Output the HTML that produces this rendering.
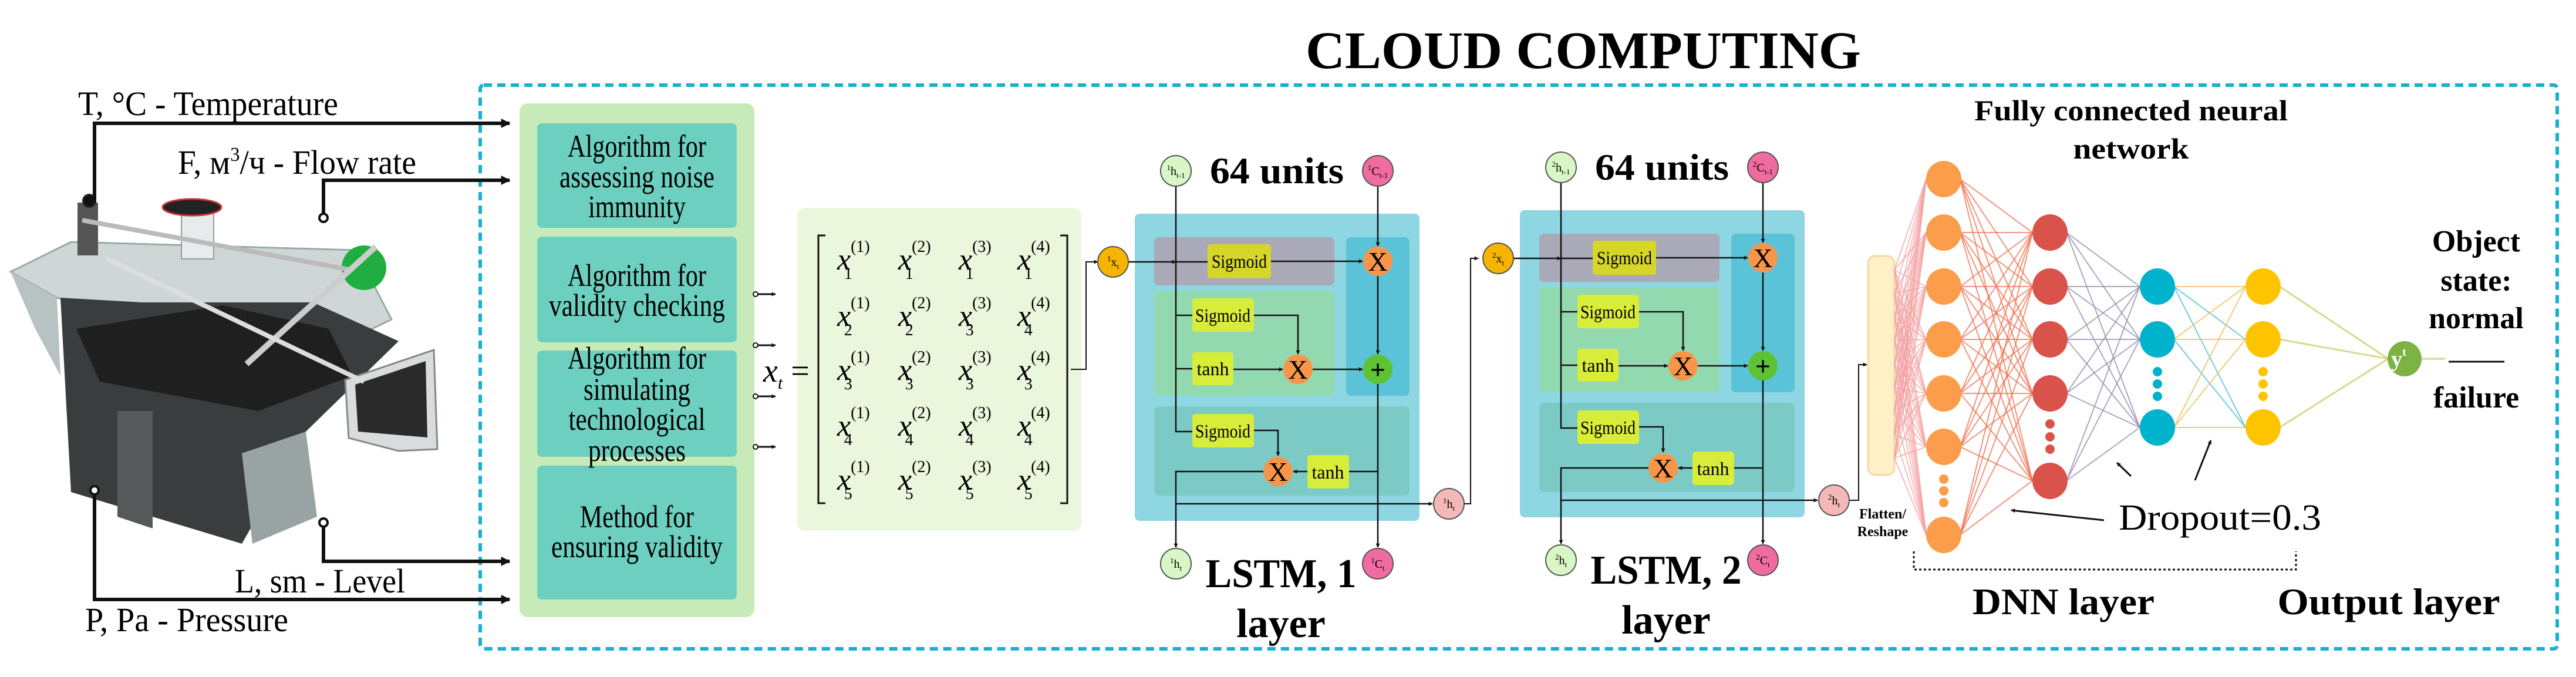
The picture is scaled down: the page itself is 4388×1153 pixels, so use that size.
<!DOCTYPE html>
<html><head><meta charset="utf-8"><style>
html,body{margin:0;padding:0;background:#fff;}
svg{display:block;}
text{font-family:"Liberation Serif",serif;}
</style></head><body>
<svg id="s" width="4388" height="1153" viewBox="0 0 4388 1153" xmlns="http://www.w3.org/2000/svg" font-family="Liberation Serif, serif">
<defs>
<marker id="ar" viewBox="0 0 10 10" refX="9" refY="5" markerWidth="7" markerHeight="7" orient="auto" markerUnits="userSpaceOnUse"><path d="M0,0L10,5L0,10z" fill="#111"/></marker>
<marker id="ab" viewBox="0 0 10 10" refX="9" refY="5" markerWidth="16" markerHeight="16" orient="auto" markerUnits="userSpaceOnUse"><path d="M0,0L10,5L0,10z" fill="#111"/></marker>
</defs>
<rect width="4388" height="1153" fill="#fff"/>

<text x="2697" y="116" font-size="90" font-weight="bold" text-anchor="middle" textLength="946" lengthAdjust="spacingAndGlyphs">CLOUD COMPUTING</text>

<rect x="818" y="145" width="3538" height="960" rx="6" fill="none" stroke="#16b0d0" stroke-width="6" stroke-dasharray="14 9"/>

<!-- machine photo approximation -->
<g>
<polygon points="18,463 121,412 606,426 667,544 485,632 97,507" fill="#cfd6d6" stroke="#9aa" stroke-width="3"/>
<polygon points="18,463 97,507 103,640 60,560" fill="#b9c2c2"/>
<polygon points="103,507 242,515 533,515 679,581 521,735 412,926 121,838" fill="#3a3d3e"/>
<polygon points="130,560 380,520 560,560 600,640 440,700 170,650" fill="#1f1f1f"/>
<polygon points="412,772 521,735 540,880 430,926" fill="#9aa3a3"/>
<polygon points="200,700 260,700 260,900 200,880" fill="#55595a"/>
<polygon points="588,647 739,596 745,765 679,768 594,746" fill="#d8dcdc" stroke="#888" stroke-width="3"/>
<polygon points="605,655 725,615 728,745 610,735" fill="#2a2a2a"/>
<rect x="309" y="346" width="55" height="95" fill="#e6ebeb" stroke="#999" stroke-width="2"/>
<ellipse cx="327" cy="353" rx="50" ry="14" fill="#222" stroke="#c33" stroke-width="3"/>
<rect x="132" y="345" width="35" height="90" fill="#555"/>
<circle cx="152" cy="342" r="12" fill="#222"/>
<circle cx="620" cy="456" r="38" fill="#1fae3f"/>
<line x1="140" y1="375" x2="600" y2="460" stroke="#bbb" stroke-width="8"/>
<line x1="420" y1="620" x2="640" y2="420" stroke="#ccc" stroke-width="10"/>
<line x1="180" y1="440" x2="620" y2="650" stroke="#ddd" stroke-width="8"/>
</g>

<g stroke="#111" stroke-width="6" fill="none">
<polyline points="161,345 161,210 868,210" marker-end="url(#ab)"/>
<polyline points="551,371 551,307 868,307" marker-end="url(#ab)"/>
<polyline points="551,890 551,956 868,956" marker-end="url(#ab)"/>
<polyline points="161,835 161,1021 868,1021" marker-end="url(#ab)"/>
</g>
<g fill="#fff" stroke="#111" stroke-width="4">
<circle cx="551" cy="371" r="7"/><circle cx="551" cy="890" r="7"/><circle cx="161" cy="835" r="7"/><circle cx="152" cy="342" r="7" fill="#111"/>
</g>
<g font-size="58">
<text x="133" y="196" textLength="443" lengthAdjust="spacingAndGlyphs">T, °C - Temperature</text>
<text x="303" y="296" textLength="406" lengthAdjust="spacingAndGlyphs">F, м<tspan font-size="34" dy="-22">3</tspan><tspan dy="22">/ч - Flow rate</tspan></text>
<text x="400" y="1009" textLength="290" lengthAdjust="spacingAndGlyphs">L, sm - Level</text>
<text x="145" y="1075" textLength="346" lengthAdjust="spacingAndGlyphs">P, Pa - Pressure</text>
</g>

<rect x="885" y="176" width="400" height="875" rx="14" fill="#c6ebb8"/>
<g fill="#6dcfbf">
<rect x="915" y="210" width="340" height="178" rx="8"/>
<rect x="915" y="403" width="340" height="180" rx="8"/>
<rect x="915" y="597" width="340" height="181" rx="8"/>
<rect x="915" y="793" width="340" height="228" rx="8"/>
</g>
<g font-size="54" text-anchor="middle" lengthAdjust="spacingAndGlyphs">
<text x="1085" y="267" textLength="236" lengthAdjust="spacingAndGlyphs">Algorithm for</text>
<text x="1085" y="319" textLength="264" lengthAdjust="spacingAndGlyphs">assessing noise</text>
<text x="1085" y="370" textLength="166" lengthAdjust="spacingAndGlyphs">immunity</text>
<text x="1085" y="487" textLength="236" lengthAdjust="spacingAndGlyphs">Algorithm for</text>
<text x="1085" y="538" textLength="300" lengthAdjust="spacingAndGlyphs">validity checking</text>
<text x="1085" y="628" textLength="236" lengthAdjust="spacingAndGlyphs">Algorithm for</text>
<text x="1085" y="681" textLength="182" lengthAdjust="spacingAndGlyphs">simulating</text>
<text x="1085" y="732" textLength="233" lengthAdjust="spacingAndGlyphs">technological</text>
<text x="1085" y="785" textLength="166" lengthAdjust="spacingAndGlyphs">processes</text>
<text x="1085" y="898" textLength="194" lengthAdjust="spacingAndGlyphs">Method for</text>
<text x="1085" y="949" textLength="292" lengthAdjust="spacingAndGlyphs">ensuring validity</text>
</g>
<g stroke="#111" stroke-width="3" fill="none">
<line x1="1290" y1="501" x2="1321" y2="501" marker-end="url(#ar)"/>
<line x1="1290" y1="588" x2="1321" y2="588" marker-end="url(#ar)"/>
<line x1="1290" y1="675" x2="1321" y2="675" marker-end="url(#ar)"/>
<line x1="1290" y1="761" x2="1321" y2="761" marker-end="url(#ar)"/>
</g>
<g fill="#fff" stroke="#111" stroke-width="2"><circle cx="1287" cy="501" r="4"/><circle cx="1287" cy="588" r="4"/><circle cx="1287" cy="675" r="4"/><circle cx="1287" cy="761" r="4"/></g>

<rect x="1358" y="354" width="484" height="550" rx="14" fill="#eaf7dc"/>
<text x="1300" y="650" font-size="56" font-style="italic">x<tspan font-size="30" dy="12">t</tspan><tspan font-style="normal" font-size="56" dy="-12"> =</tspan></text>
<g stroke="#111" stroke-width="3" fill="none">
<polyline points="1406,401 1394,401 1394,857 1406,857"/>
<polyline points="1806,401 1818,401 1818,857 1806,857"/>
<polyline points="1824,629 1850,629 1850,446 1870,446" stroke-width="2" marker-end="url(#ar)"/>
</g>
<g id="mat" font-size="52" font-style="italic"></g>

<g id="cell">
<rect x="1933" y="364" width="485" height="523" rx="8" fill="#8fd6e3"/>
<rect x="1966" y="404" width="307" height="82" rx="8" fill="#a9a9b8"/>
<rect x="2293" y="404" width="108" height="270" rx="8" fill="#5bc3d7"/>
<rect x="1966" y="495" width="307" height="179" rx="8" fill="#93d9b0"/>
<rect x="1966" y="692" width="435" height="152" rx="8" fill="#7ccac6"/>
<rect x="2057" y="416" width="108" height="58" rx="5" fill="#d6d62a"/>
<rect x="2031" y="508" width="105" height="57" rx="5" fill="#d8ec3a"/>
<rect x="2031" y="600" width="70" height="56" rx="5" fill="#d8ec3a"/>
<rect x="2031" y="705" width="105" height="57" rx="5" fill="#d8ec3a"/>
<rect x="2227" y="775" width="71" height="57" rx="5" fill="#d8ec3a"/>
<g font-size="32" text-anchor="middle">
<text x="2111" y="456" textLength="94" lengthAdjust="spacingAndGlyphs">Sigmoid</text><text x="2083" y="548" textLength="94" lengthAdjust="spacingAndGlyphs">Sigmoid</text><text x="2066" y="639">tanh</text><text x="2083" y="745" textLength="94" lengthAdjust="spacingAndGlyphs">Sigmoid</text><text x="2262" y="815">tanh</text>
</g>
<g stroke="#111" stroke-width="2.5" fill="none">
<polyline points="2003,317 2003,735 2031,735"/>
<line x1="2003" y1="537" x2="2031" y2="537"/><line x1="2003" y1="628" x2="2031" y2="628"/>
<line x1="1922" y1="446" x2="2003" y2="446" marker-end="url(#ar)"/><line x1="2003" y1="446" x2="2057" y2="446"/>
<line x1="2165" y1="445" x2="2321" y2="445" marker-end="url(#ar)"/>
<line x1="2347" y1="317" x2="2347" y2="419" marker-end="url(#ar)"/>
<line x1="2347" y1="469" x2="2347" y2="603" marker-end="url(#ar)"/>
<line x1="2347" y1="653" x2="2347" y2="932" marker-end="url(#ar)"/>
<polyline points="2136,537 2211,537 2211,603" marker-end="url(#ar)"/>
<line x1="2101" y1="629" x2="2185" y2="629" marker-end="url(#ar)"/>
<line x1="2235" y1="629" x2="2321" y2="629" marker-end="url(#ar)"/>
<polyline points="2136,733 2177,733 2177,776" marker-end="url(#ar)"/>
<line x1="2347" y1="803" x2="2298" y2="803"/>
<line x1="2227" y1="803" x2="2203" y2="803" marker-end="url(#ar)"/>
<polyline points="2153,803 2003,803 2003,932" marker-end="url(#ar)"/>
<line x1="2003" y1="858" x2="2440" y2="858" marker-end="url(#ar)"/>
</g>
<g stroke="#555" stroke-width="2">
<circle cx="1896" cy="446" r="26" fill="#f5b400"/>
<circle cx="2003" cy="291" r="26" fill="#d9f7c6"/>
<circle cx="2347" cy="291" r="26" fill="#f06ba0"/>
<circle cx="2347" cy="445" r="25" fill="#f7964b" stroke="none"/>
<circle cx="2347" cy="629" r="25" fill="#5fc134" stroke="none"/>
<circle cx="2211" cy="629" r="25" fill="#f7964b" stroke="none"/>
<circle cx="2177" cy="803" r="25" fill="#f7964b" stroke="none"/>
<circle cx="2003" cy="960" r="26" fill="#d9f7c6"/>
<circle cx="2347" cy="960" r="26" fill="#f06ba0"/>
<circle cx="2468" cy="858" r="26" fill="#f5b8b8"/>
</g>
<g font-size="46" text-anchor="middle">
<text x="2347" y="461">X</text><text x="2211" y="645">X</text><text x="2177" y="819">X</text>
<text x="2347" y="645" font-weight="bold" font-family="Liberation Sans, sans-serif">+</text>
</g>
<g font-size="20" text-anchor="middle">
<text x="1896" y="453"><tspan font-size="13" dy="-8">1</tspan><tspan dy="8">x</tspan><tspan font-size="13" dy="5">t</tspan></text>
<text x="2003" y="298"><tspan font-size="13" dy="-8">1</tspan><tspan dy="8">h</tspan><tspan font-size="13" dy="5">t-1</tspan></text>
<text x="2347" y="298"><tspan font-size="13" dy="-8">1</tspan><tspan dy="8">C</tspan><tspan font-size="13" dy="5">t-1</tspan></text>
<text x="2003" y="967"><tspan font-size="13" dy="-8">1</tspan><tspan dy="8">h</tspan><tspan font-size="13" dy="5">t</tspan></text>
<text x="2347" y="967"><tspan font-size="13" dy="-8">1</tspan><tspan dy="8">C</tspan><tspan font-size="13" dy="5">t</tspan></text>
<text x="2468" y="865"><tspan font-size="13" dy="-8">1</tspan><tspan dy="8">h</tspan><tspan font-size="13" dy="5">t</tspan></text>
</g>
<text x="2175" y="312" font-size="64" font-weight="bold" text-anchor="middle" textLength="228" lengthAdjust="spacingAndGlyphs">64 units</text>
<text x="2182" y="1000" font-size="70" font-weight="bold" text-anchor="middle" textLength="257" lengthAdjust="spacingAndGlyphs">LSTM, 1</text>
<text x="2182" y="1085" font-size="70" font-weight="bold" text-anchor="middle">layer</text>
</g>
<g id="cell2" transform="translate(656,-6)"></g>
<polyline points="2494,858 2505,858 2505,440 2518,440" stroke="#111" stroke-width="2" fill="none" marker-end="url(#ar)"/>

<rect x="3182" y="436" width="45" height="373" rx="12" fill="#fff0c8" stroke="#f5d9a0" stroke-width="3"/>
<polyline points="3151,852 3166,852 3166,621 3180,621" stroke="#111" stroke-width="2" fill="none" marker-end="url(#ar)"/>
<text x="3207" y="883" font-size="24" font-weight="bold" text-anchor="middle">Flatten/</text>
<text x="3207" y="913" font-size="24" font-weight="bold" text-anchor="middle">Reshape</text>

<g id="net"></g>

<text x="3630" y="205" font-size="50" font-weight="bold" text-anchor="middle" textLength="534" lengthAdjust="spacingAndGlyphs">Fully connected neural</text>
<text x="3630" y="270" font-size="50" font-weight="bold" text-anchor="middle" textLength="197" lengthAdjust="spacingAndGlyphs">network</text>
<g font-size="52" font-weight="bold" text-anchor="middle">
<text x="4218" y="428">Object</text><text x="4218" y="495">state:</text><text x="4218" y="559">normal</text><text x="4218" y="694">failure</text>
</g>
<line x1="4171" y1="616" x2="4266" y2="616" stroke="#111" stroke-width="3"/>
<text x="3609" y="902" font-size="62" textLength="345" lengthAdjust="spacingAndGlyphs">Dropout=0.3</text>
<g stroke="#111" stroke-width="3" fill="none">
<line x1="3584" y1="886" x2="3426" y2="869" marker-end="url(#ar)"/>
<line x1="3630" y1="811" x2="3606" y2="788" marker-end="url(#ar)"/>
<line x1="3739" y1="818" x2="3766" y2="750" marker-end="url(#ar)"/>
<polyline points="3260,939 3260,970 3911,970 3911,939" stroke-dasharray="4 4" stroke-width="3"/>
</g>
<text x="3515" y="1046" font-size="64" font-weight="bold" text-anchor="middle" textLength="310" lengthAdjust="spacingAndGlyphs">DNN layer</text>
<text x="4069" y="1046" font-size="64" font-weight="bold" text-anchor="middle" textLength="379" lengthAdjust="spacingAndGlyphs">Output layer</text>
</svg>
<script>
(function(){
var NS="http://www.w3.org/2000/svg";
function el(p,t,a,txt){var e=document.createElementNS(NS,t);for(var k in a)e.setAttribute(k,a[k]);if(txt)e.textContent=txt;p.appendChild(e);return e;}
var c=document.getElementById('cell').cloneNode(true);c.removeAttribute('id');
var ts=c.querySelectorAll('text');
ts.forEach(function(t){var f=t.firstChild;if(f&&f.nodeType===1&&f.textContent==='1')f.textContent='2';if(t.textContent==='LSTM, 1')t.textContent='LSTM, 2';});
document.getElementById('cell2').appendChild(c);
var m=document.getElementById('mat');
var cols=[1448,1552,1655,1755],rows=[441,537,629,724,816];
var subs=[[1,1,1,1],[2,2,3,4],[3,3,3,3],[4,4,4,4],[5,5,5,5]];
for(var r=0;r<5;r++)for(var k=0;k<4;k++){
 var t=el(m,'text',{x:cols[k]-22,y:rows[r]+18});
 t.appendChild(document.createTextNode('x'));
 el(t,'tspan',{'font-size':28,'font-style':'normal',dy:-30},'('+(k+1)+')');
 el(t,'tspan',{'font-size':28,'font-style':'normal',dx:-44,dy:46},''+subs[r][k]);
}
var n=document.getElementById('net');
var O=[305,396,488,578,670,761,911],R=[396,488,578,670,819],C=[488,578,728],Y=[488,578,728];
var xo=3311,xr=3492,xc=3675,xy=3855,yo={x:4096,y:611};
for(var i=0;i<9;i++){var by=460+i*40;O.forEach(function(o){el(n,'line',{x1:3227,y1:by,x2:xo-30,y2:o,stroke:'#f4a0a0','stroke-width':2,opacity:.7});});}
O.forEach(function(o){R.forEach(function(q){el(n,'line',{x1:xo+28,y1:o,x2:xr-30,y2:q,stroke:'#f07050','stroke-width':2,opacity:.75});});});
R.forEach(function(o){C.forEach(function(q){el(n,'line',{x1:xr+28,y1:o,x2:xc-30,y2:q,stroke:'#9a90b0','stroke-width':2,opacity:.8});});});
C.forEach(function(o){Y.forEach(function(q){el(n,'line',{x1:xc+28,y1:o,x2:xy-30,y2:q,stroke:(o<q?'#5cc3d6':'#f5c060'),'stroke-width':2,opacity:.85});});});
Y.forEach(function(o){el(n,'line',{x1:xy+28,y1:o,x2:yo.x-28,y2:yo.y,stroke:'#d8d890','stroke-width':3});});
el(n,'line',{x1:yo.x+28,y1:yo.y,x2:4165,y2:yo.y,stroke:'#e0d080','stroke-width':3});
function nodes(x,arr,col){arr.forEach(function(y){el(n,'ellipse',{cx:x,cy:y,rx:30,ry:31,fill:col});});}
nodes(xo,O,'#fb9d4a');nodes(xr,R,'#d9534a');nodes(xc,C,'#00b3cc');nodes(xy,Y,'#ffc400');
function dots(x,ys,col){ys.forEach(function(y){el(n,'circle',{cx:x,cy:y,r:8,fill:col});});}
dots(xo,[816,836,856],'#fb9d4a');dots(xr,[722,744,765],'#d9534a');dots(xc,[633,654,675],'#00b3cc');dots(xy,[633,654,675],'#ffc400');
el(n,'ellipse',{cx:yo.x,cy:yo.y,rx:29,ry:30,fill:'#7cb342'});
var yt=el(n,'text',{x:yo.x-10,y:yo.y+13,'font-size':38,'font-weight':'bold',fill:'#fff','text-anchor':'middle'},'y');
el(yt,'tspan',{'font-size':20,dy:-18},'t');
})();
</script>
</body></html>
